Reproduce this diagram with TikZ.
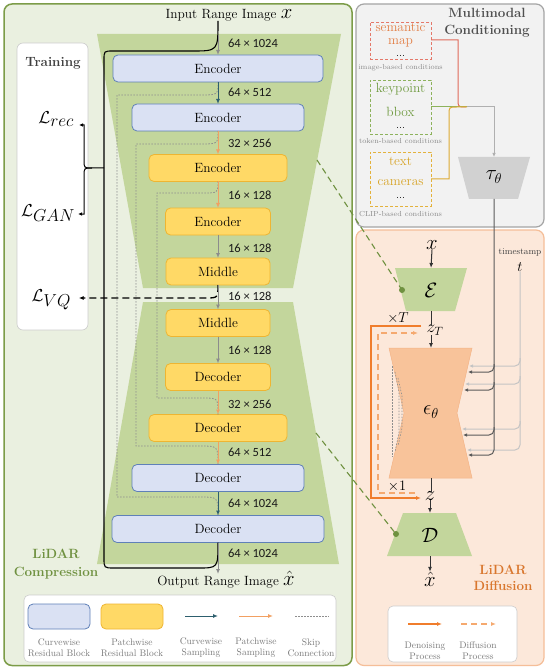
\documentclass[tikz,border=0pt]{standalone}
\usepackage{fontspec}
\newfontfamily\dimfont{Carlito}
\usetikzlibrary{arrows.meta,calc}
\definecolor{panelGfill}{HTML}{EAF0E0}
\definecolor{panelGdraw}{HTML}{7C9C48}
\definecolor{trap}{HTML}{C3D69C}
\definecolor{cbFill}{HTML}{DAE1F3}
\definecolor{cbDraw}{HTML}{5F80B8}
\definecolor{pbFill}{HTML}{FFD966}
\definecolor{pbDraw}{HTML}{EEB532}
\definecolor{tealA}{HTML}{2D5F6E}
\definecolor{orangeA}{HTML}{F2A062}
\definecolor{grayA}{HTML}{8C8C8C}
\definecolor{skipGray}{HTML}{8E8E8E}
\definecolor{panelMfill}{HTML}{F2F2F2}
\definecolor{panelMdraw}{HTML}{A5A5A5}
\definecolor{panelDfill}{HTML}{FCE8DA}
\definecolor{panelDdraw}{HTML}{F5BE98}
\definecolor{epsFill}{HTML}{F8C39A}
\definecolor{epsDraw}{HTML}{F4B385}
\definecolor{tauFill}{HTML}{D1D1D1}
\definecolor{greenT}{HTML}{6F9140}
\definecolor{orangeT}{HTML}{D9772E}
\definecolor{denoise}{HTML}{F07D2C}
\definecolor{diffu}{HTML}{F5A96F}
\definecolor{semC}{HTML}{E4786A}
\definecolor{semT}{HTML}{E27E45}
\definecolor{keyC}{HTML}{8DB25C}
\definecolor{keyT}{HTML}{6F9A40}
\definecolor{txtC}{HTML}{E3B23C}
\definecolor{txtT}{HTML}{D7A325}
\definecolor{semLine}{HTML}{E06A5A}
\definecolor{txtLine}{HTML}{DDAA33}
\definecolor{lineGray}{HTML}{B0B0B0}
\definecolor{darkLine}{HTML}{5A5A5A}
\definecolor{lightLine}{HTML}{C4C4C4}
\definecolor{titleGray}{HTML}{505050}
\definecolor{capGray}{HTML}{8A8A8A}
\definecolor{legGray}{HTML}{7A7A7A}
\tikzset{
 lbl/.style={font=\fontsize{13.4}{16}\selectfont},
 ttl/.style={font=\bfseries\fontsize{13.4}{17}\selectfont, align=center},
 cbox/.style={draw=cbDraw, fill=cbFill, line width=0.8pt, rounded corners=5pt, minimum height=27pt, font=\fontsize{13.4}{16}\selectfont},
 pbox/.style={cbox, draw=pbDraw, fill=pbFill},
 dimlab/.style={anchor=west, font=\dimfont\fontsize{12.5}{14}\selectfont, text=black!90},
 garr/.style={draw=grayA, line width=1pt, -{Latex[length=5pt,width=4pt]}},
 tarr/.style={garr, draw=tealA},
 oarr/.style={garr, draw=orangeA},
 skipline/.style={draw=skipGray, line width=0.8pt, dash pattern=on 1.5pt off 1.5pt},
 blk/.style={draw=black, line width=1.1pt},
 cond/.style={line width=0.9pt, dash pattern=on 3pt off 2pt},
 tinycap/.style={font=\fontsize{7.3}{8}\selectfont, text=capGray},
 legtext/.style={font=\fontsize{9.5}{11}\selectfont, text=legGray, align=center},
 darr/.style={draw=black!80, line width=1pt, -{Latex[length=5pt,width=4pt]}},
 dline/.style={draw=black!80, line width=1pt},
 gdash/.style={draw=greenT, line width=1.1pt, dash pattern=on 6pt off 4pt},
 darkbr/.style={draw=darkLine, line width=1pt, rounded corners=5pt, -{Latex[length=4pt,width=3.5pt]}},
 lightbr/.style={draw=lightLine, line width=1pt, rounded corners=5pt, -{Latex[length=4pt,width=3.5pt]}},
 condline/.style={line width=1pt},
 bigmath/.style={font=\fontsize{20}{20}\selectfont},
 lossl/.style={anchor=base east, font=\fontsize{17.5}{18}\selectfont},
}
\begin{document}
\begin{tikzpicture}[x=1pt,y=-1pt, every node/.style={inner sep=0pt,outer sep=0pt}]
\useasboundingbox (0,0) rectangle (549,668);
\fill[white] (0,0) rectangle (549,668);

% ---------- panels
\draw[draw=panelGdraw, fill=panelGfill, line width=1.5pt, rounded corners=8pt] (4,4) rectangle (352,665.5);
\draw[draw=panelMdraw, fill=panelMfill, line width=1.2pt, rounded corners=8pt] (356,4) rectangle (544,227);
\draw[draw=panelDdraw, fill=panelDfill, line width=1.2pt, rounded corners=8pt] (356,230) rectangle (544,665.5);

% ---------- training box
\draw[draw=black!20, fill=white, rounded corners=6pt, line width=0.6pt] (17,43) rectangle (88,330);
\node[ttl, text=black!75] (train) at (53,63) {Training};

% ---------- trapezoids
\fill[trap] (97,34) -- (341,34) -- (293,288) -- (143,288) -- cycle;
\fill[trap] (143,302) -- (293,302) -- (339,564) -- (97,564) -- cycle;

% ---------- boxes
\node[cbox, minimum width=210pt] (enc1) at (218,68.5) {Encoder};
\node[cbox, minimum width=172pt] (enc2) at (218,117.5) {Encoder};
\node[pbox, minimum width=138pt] (enc3) at (218,168) {Encoder};
\node[pbox, minimum width=105pt] (enc4) at (218,221.5) {Encoder};
\node[pbox, minimum width=104pt] (mid1) at (218,271.5) {Middle};
\node[pbox, minimum width=104pt] (mid2) at (218,323) {Middle};
\node[pbox, minimum width=105pt] (dec1) at (218,377) {Decoder};
\node[pbox, minimum width=138pt] (dec2) at (218,428) {Decoder};
\node[cbox, minimum width=172pt] (dec3) at (218,478) {Decoder};
\node[cbox, minimum width=212pt] (dec4) at (218,529) {Decoder};

% ---------- input / output texts
\node[lbl] (in) at (229,15) {Input Range Image \fontsize{20}{20}\selectfont$x$};
\node[lbl] (out) at (226,580) {Output Range Image \fontsize{20}{20}\selectfont$\hat{x}$};
\coordinate (topin) at (218,35);
\coordinate (outtop) at (218,574);

% ---------- skip connections
\draw[skipline] (enc1.south) .. controls (218,95) .. (200,95) -- (117,95) -- (117,497) -- (200,497) .. controls (218,497) .. (dec4.north);
\draw[skipline] (enc2.south) .. controls (218,144) .. (200,144) -- (136,144) -- (136,446) -- (200,446) .. controls (218,446) .. (dec3.north);
\draw[skipline] (enc3.south) .. controls (218,193) .. (203,193) -- (157,193) -- (157,398) -- (203,398) .. controls (218,398) .. (dec2.north);

% ---------- black loop + brace
\draw[blk] (enc1.north |- in.south) .. controls (218,51) .. (192,51) -- (113,51) .. controls (104,51) .. (104,60) -- (104,558) .. controls (104,568) .. (114,568) -- (198,568) .. controls (218,568) .. (dec4.south);
\coordinate (bt) at (104,168);
\node[lossl] (Lrec) at (74,124) {$\mathcal{L}_{\textstyle rec}$};
\node[lossl] (Lgan) at (75,216) {$\mathcal{L}_{\textstyle GAN}$};
\node[lossl] (Lvq) at (71,301) {$\mathcal{L}_{\textstyle VQ}$};
\draw[blk, line width=1pt, -{Latex[length=4pt,width=3.5pt]}] (bt) -- (92,168) .. controls (84,168) .. (84,160) -- (84,125) -- ($(Lrec.base east)+(5,1)$);
\draw[blk, line width=1pt, -{Latex[length=4pt,width=3.5pt]}] (92,168) .. controls (84,168) .. (84,176) -- (84,214) -- ($(Lgan.base east)+(3,-2)$);
\draw[blk, line width=1.3pt, dash pattern=on 7pt off 4pt, -{Latex[length=4.5pt,width=4pt]}] (mid1.south) .. controls (218,298) .. (205,298) -- ($(Lvq.base east)+(8,-3)$);

% ---------- main arrows
\draw[garr] (topin) -- (enc1.north);
\draw[tarr] (enc1.south) -- (enc2.north);
\draw[oarr] (enc2.south) -- (enc3.north);
\draw[oarr] (enc3.south) -- (enc4.north);
\draw[garr] (enc4.south) -- (mid1.north);
\draw[garr] (mid1.south) -- (mid2.north);
\draw[garr] (mid2.south) -- (dec1.north);
\draw[oarr] (dec1.south) -- (dec2.north);
\draw[oarr] (dec2.south) -- (dec3.north);
\draw[tarr] (dec3.south) -- (dec4.north);
\draw[garr] (dec4.south) -- (outtop);

% ---------- dimension labels
\node[dimlab] (d1) at (228,43) {64 × 1024};
\node[dimlab] (d2) at (228,92) {64 × 512};
\node[dimlab] (d3) at (228,143) {32 × 256};
\node[dimlab] (d4) at (228,195) {16 × 128};
\node[dimlab] (d5) at (228,248) {16 × 128};
\node[dimlab] (d6) at (228,296) {16 × 128};
\node[dimlab] (d7) at (228,350) {16 × 128};
\node[dimlab] (d8) at (228,404) {32 × 256};
\node[dimlab] (d9) at (228,452) {64 × 512};
\node[dimlab] (d10) at (228,503) {64 × 1024};
\node[dimlab] (d11) at (228,553) {64 × 1024};

% ---------- LiDAR Compression label
\node[ttl, text=greenT, font=\bfseries\fontsize{13.4}{18}\selectfont] (lc) at (56,564) {LiDAR\\Compression};

% ---------- left legend
\draw[draw=black!20, fill=white, rounded corners=5pt, line width=0.6pt] (24,595) rectangle (336,662);
\node[cbox, minimum width=62pt, minimum height=25pt] (lgb) at (59,616.5) {};
\node[pbox, minimum width=62pt, minimum height=25pt] (lgy) at (132,616.5) {};
\coordinate (la1) at (185,616); \coordinate (la2) at (218,616);
\coordinate (lb1) at (239,616); \coordinate (lb2) at (273,616);
\coordinate (lc1) at (295,616); \coordinate (lc2) at (329,616);
\draw[tarr] (la1) -- (la2);
\draw[oarr] (lb1) -- (lb2);
\draw[skipline] (lc1) -- (lc2);
\node[legtext] (lt1) at (59,647.5) {Curvewise\\Residual Block};
\node[legtext] (lt2) at (132,647.5) {Patchwise\\Residual Block};
\node[legtext] (lt3) at (201,647.5) {Curvewise\\Sampling};
\node[legtext] (lt4) at (256,647.5) {Patchwise\\Sampling};
\node[legtext] (lt5) at (311,647.5) {Skip\\Connection};

% ---------- multimodal conditioning
\node[ttl, text=titleGray] (mmt) at (487,23) {Multimodal\\Conditioning};
\node[draw=semC, cond, minimum width=61pt, minimum height=37pt] (sem) at (400.5,40.5) {};
\node[text=semT, align=center, font=\fontsize{13.4}{12.5}\selectfont] (semtx) at (400.5,35) {semantic\\map};
\node[font=\fontsize{11}{12}\selectfont] at (400.5,55.5) {...};
\node[tinycap] (capA) at (400.5,68) {image-based conditions};
\node[draw=keyC, cond, minimum width=61pt, minimum height=54pt] (key) at (400.5,107) {};
\node[lbl, text=keyT] at (400.5,89) {keypoint};
\node[lbl, text=keyT] at (400.5,112) {bbox};
\node[font=\fontsize{11}{12}\selectfont] at (400.5,127.5) {...};
\node[tinycap] (capB) at (400.5,141) {token-based conditions};
\node[draw=txtC, cond, minimum width=61pt, minimum height=54pt] (txt) at (400.5,179) {};
\node[lbl, text=txtT] at (400.5,161) {text};
\node[lbl, text=txtT] at (400.5,183) {cameras};
\node[font=\fontsize{11}{12}\selectfont] at (400.5,198) {...};
\node[tinycap] (capC) at (400.5,214) {CLIP-based conditions};
\coordinate (mrg) at (467,107);
\fill[tauFill] (458,157) -- (530,157) -- (518,199) -- (469,199) -- cycle;
\coordinate (tautop) at (494,157);
\coordinate (taubot) at (494,199);
\node[font=\fontsize{22}{22}\selectfont] (tau) at (494,177) {$\tau_\theta$};
\draw[condline, draw=semLine] (sem.east |- 0,40) -- (458,40) -- (458,99) .. controls (458,107) .. (466,107);
\draw[condline, draw=keyC] (key.east) -- (mrg);
\draw[condline, draw=txtLine] (txt.east) -- (449,179) -- (449,115) .. controls (449,107) .. (457,107) -- (mrg);
\draw[condline, draw=lineGray, -{Latex[length=4pt,width=3.5pt]}] (mrg) -- (494,107) -- (tautop);

% ---------- diffusion
\fill[epsFill, draw=epsDraw, line width=0.5pt] (389,348) -- (472,348) -- (457,413) -- (472,478) -- (389,478) -- (404,413) -- cycle;
\fill[trap] (395,268) -- (467,268) -- (455,311) -- (406,311) -- cycle;
\fill[trap] (403,513) -- (456,513) -- (472,556) -- (387,556) -- cycle;
\coordinate (Etop) at (431,268); \coordinate (Ebot) at (431,311);
\coordinate (epstop) at (431,348); \coordinate (epsbot) at (431,478);
\coordinate (Dtop) at (430,513); \coordinate (Dbot) at (430,556);
\node[bigmath] (xd) at (432,245) {$x$};
\node[font=\fontsize{22}{22}\selectfont] (En) at (431,290) {$\mathcal{E}$};
\node[font=\fontsize{18}{18}\selectfont] (zT) at (435,330) {$z_{T}$};
\node[font=\fontsize{21}{21}\selectfont] (eps) at (431,412) {$\epsilon_\theta$};
\node[bigmath] (z) at (430,496) {$z$};
\node[font=\fontsize{21}{21}\selectfont] (Dn) at (430,535) {$\mathcal{D}$};
\node[bigmath] (xh) at (430,579) {$\hat{x}$};
\draw[darr] (xd.south) -- (Etop);
\draw[dline] (Ebot) -- (Ebot |- zT.north);
\draw[darr] (Ebot |- zT.south) -- (epstop);
\draw[dline] (epsbot) -- (epsbot |- z.north);
\draw[darr] (z.south) -- (Dtop);
\draw[darr] (Dbot) -- (xh.north);
\node[font=\fontsize{14}{14}\selectfont] (xT) at (398,318) {$\times T$};
\node[font=\fontsize{14}{14}\selectfont] (x1) at (397,486) {$\times 1$};
\coordinate (ds1) at (421,326); \coordinate (ds2) at (421,498);
\coordinate (df1) at (415,493); \coordinate (df2) at (418,333);
\draw[draw=denoise, line width=1.3pt, -{Latex[length=5pt,width=4pt]}] (ds1) -- (371,326) -- (371,498) -- (ds2);
\draw[draw=diffu, line width=1.2pt, dash pattern=on 6pt off 4pt, -{Latex[length=5pt,width=4pt]}] (df1) -- (378,493) -- (378,333) -- (df2);
% skip dots inside eps
\draw[skipline, line width=0.6pt] (392,366) -- (392,457);
\draw[skipline, line width=0.6pt] (395,372) -- (399,392) -- (399,432) -- (395,452);
\draw[skipline, line width=0.6pt] (398,378) -- (402,396) -- (402,428) -- (398,446);
% timestep
\node[font=\fontsize{9}{10}\selectfont, text=black!75] (ts) at (520,252) {timestamp};
\node[font=\fontsize{15}{15}\selectfont] (tt) at (520,267) {$t$};
\draw[lightbr] (tt.south) |- (467,450);
\draw[lightbr] (520,358) |- (469,366);
\draw[lightbr] (520,376) |- (465,384);
\draw[lightbr] (520,421) |- (462,429);
\draw[darkbr] (taubot) |- (468,455);
\draw[darkbr] (494,364) |- (468,372);
\draw[darkbr] (494,382) |- (464,390);
\draw[darkbr] (494,427) |- (463,435);
% green dashed connectors
\coordinate (gE) at (402,290); \coordinate (gD) at (396,534);
\coordinate (gs1) at (317,160); \coordinate (gs2) at (316,433);
\draw[gdash] (gs1) -- (gE);
\draw[gdash] (gs2) -- (gD);
\fill[greenT] (gE) circle (3pt);
\fill[greenT] (gD) circle (3pt);
% LiDAR Diffusion label
\node[ttl, text=orangeT, font=\bfseries\fontsize{13.4}{16}\selectfont] (ld) at (503,578) {LiDAR\\Diffusion};
% right legend
\draw[draw=black!20, fill=white, rounded corners=5pt, line width=0.6pt] (388,606) rectangle (517,662);
\coordinate (ra1) at (408,624); \coordinate (ra2) at (442,624);
\coordinate (rb1) at (461,624); \coordinate (rb2) at (496,624);
\draw[draw=denoise, line width=1.2pt, -{Latex[length=5pt,width=4pt]}] (ra1) -- (ra2);
\draw[draw=diffu, line width=1.2pt, dash pattern=on 6pt off 4pt, -{Latex[length=5pt,width=4pt]}] (rb1) -- (rb2);
\node[legtext] (rt1) at (425,651) {Denoising\\Process};
\node[legtext] (rt2) at (478,651) {Diffusion\\Process};
\end{tikzpicture}
\end{document}
